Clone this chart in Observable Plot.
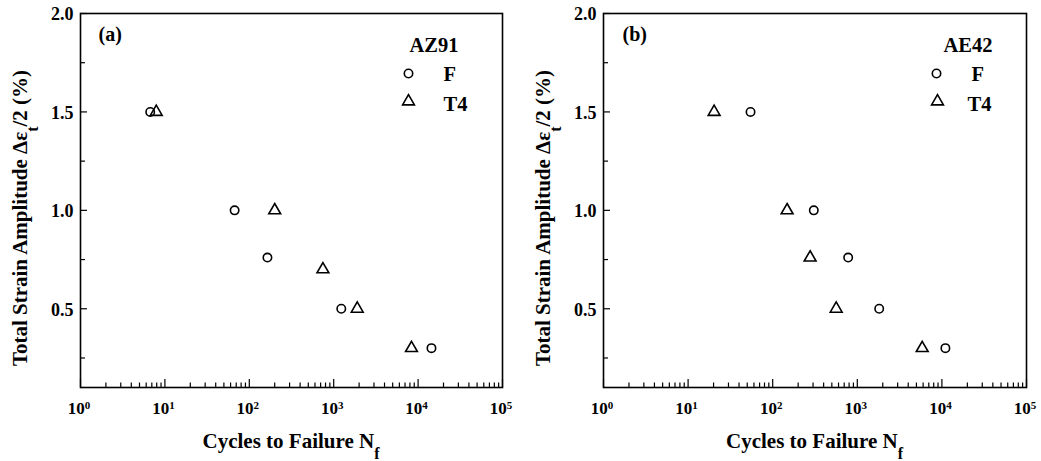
<!DOCTYPE html>
<html><head><meta charset="utf-8">
<script src="https://cdn.jsdelivr.net/npm/d3@7"></script>
<script src="https://cdn.jsdelivr.net/npm/@observablehq/plot@0.6"></script>
<style>
html,body{margin:0;padding:0;background:#fff;}
#wrap{display:flex;width:1041px;height:461px;overflow:hidden;}
svg text{font-family:"Liberation Serif","Times New Roman",serif;font-weight:bold;}
</style></head><body><div id="wrap"></div>
<script>
// ---- data ----
const xTickValues = [1, 10, 100, 1000, 10000, 100000];
const xTickExponents = [0, 1, 2, 3, 4, 5];
const minorMultipliers = [2, 3, 4, 5, 6, 7, 8, 9];
const yTickValues = [0.5, 1.0, 1.5, 2.0];
const yMinorTicks = [0.25, 0.75, 1.25, 1.75];

const az91F_cycles = [6.7, 67, 164, 1230, 14400];
const az91F_strain = [1.5, 1.0, 0.76, 0.5, 0.3];
const az91T4_cycles = [7.9, 200, 745, 1900, 8350];
const az91T4_strain = [1.5, 1.0, 0.7, 0.5, 0.3];

const ae42F_cycles = [54.7, 306, 780, 1815, 11000];
const ae42F_strain = [1.5, 1.0, 0.76, 0.5, 0.3];
const ae42T4_cycles = [20.3, 148, 277, 563, 5850];
const ae42T4_strain = [1.5, 1.0, 0.76, 0.5, 0.3];

const legendItems = ["F", "T4"];
// ---------------

const xMinorTicks = xTickValues.slice(0, -1).flatMap(d => minorMultipliers.map(m => m * d));
const toPoints = (xs, ys) => xs.map((x, i) => ({x, y: ys[i]}));
const FONT = '"Liberation Serif","Times New Roman",serif';

function panel(cfg) {
  const W = cfg.width, H = 461, mT = 13, mB = 74, mL = cfg.mL, mR = cfg.mR;
  const fw = W - mL - mR, fh = H - mT - mB;
  const cx = mL + fw / 2;

  const xLabels = (index, scales) => {
    const g = d3.create("svg:g");
    const y = H - mB + 27;
    xTickValues.forEach((v, i) => {
      const t = g.append("text").attr("x", scales.x(v) - 1).attr("y", y)
        .attr("text-anchor", "middle").attr("font-size", 17).attr("fill", "black")
        .attr("font-family", FONT).attr("font-weight", "bold");
      t.append("tspan").text("10");
      t.append("tspan").attr("dy", "-0.42em").attr("font-size", 11).text(String(xTickExponents[i]));
    });
    return g.node();
  };

  const axisTitles = () => {
    const g = d3.create("svg:g").attr("font-family", FONT).attr("font-weight", "bold").attr("fill", "black");
    const xt = g.append("text").attr("x", cx).attr("y", H - mB + 61)
      .attr("text-anchor", "middle").attr("font-size", 21);
    xt.append("tspan").text("Cycles to Failure N");
    xt.append("tspan").attr("dy", 11).attr("font-size", 16).text("f");
    const yt = g.append("text").attr("transform", `translate(${mL - 53},${mT + fh / 2 + 18}) rotate(-90)`)
      .attr("text-anchor", "middle").attr("font-size", 21);
    yt.append("tspan").text("Total Strain Amplitude \u0394\u03b5");
    yt.append("tspan").attr("dy", 11).attr("font-size", 16).text("t");
    yt.append("tspan").attr("dy", -11).text("/2 (%)");
    return g.node();
  };

  const L = cfg.legend;
  return Plot.plot({
    width: W, height: H, marginLeft: mL, marginRight: mR, marginTop: mT, marginBottom: mB,
    style: {fontFamily: FONT, fontWeight: "bold", background: "white", color: "black", overflow: "visible"},
    x: {type: "log", domain: [1, 1e5], axis: null},
    y: {domain: [0.1, 2.0], axis: null},
    marks: [
      Plot.tickX(xTickValues, {x: d => d, insetTop: fh - 8, stroke: "black", strokeWidth: 1.2}),
      Plot.tickX(xMinorTicks, {x: d => d, insetTop: fh - 4.5, stroke: "black", strokeWidth: 1.2}),
      Plot.tickY(yTickValues, {y: d => d, insetRight: fw - 7, stroke: "black", strokeWidth: 1.2}),
      Plot.tickY(yMinorTicks, {y: d => d, insetRight: fw - 5, stroke: "black", strokeWidth: 1.2}),
      Plot.text(yTickValues, {y: d => d, frameAnchor: "left", textAnchor: "end", dx: -7, dy: 1,
        text: d => d.toFixed(1), fontSize: 18, fill: "black"}),
      Plot.frame({stroke: "black", strokeWidth: 1.6}),
      Plot.dot(toPoints(cfg.fx, cfg.fy), {x: "x", y: "y", symbol: "circle", r: 4.2, stroke: "black", strokeWidth: 1.6, fill: "white"}),
      Plot.dot(toPoints(cfg.tx, cfg.ty), {x: "x", y: "y", symbol: "triangle", r: 4.4, stroke: "black", strokeWidth: 1.6, fill: "none"}),
      // panel tag
      Plot.text([cfg.tag], {frameAnchor: "top-left", dx: cfg.tagDx, dy: 27, lineAnchor: "bottom", textAnchor: "start", fontSize: 20, fill: "black"}),
      // legend
      Plot.text([cfg.alloy], {frameAnchor: "top-right", dx: L.titleDx, dy: 38, lineAnchor: "bottom", textAnchor: "start", fontSize: 20.5, fill: "black"}),
      Plot.dot([legendItems[0]], {frameAnchor: "top-right", dx: L.circDx, dy: 60, symbol: "circle", r: 4.2, stroke: "black", strokeWidth: 1.6, fill: "white"}),
      Plot.text([legendItems[0]], {frameAnchor: "top-right", dx: L.fDx, dy: 67, lineAnchor: "bottom", textAnchor: "start", fontSize: 20.5, fill: "black"}),
      Plot.dot([legendItems[1]], {frameAnchor: "top-right", dx: L.triDx, dy: 88, symbol: "triangle", r: 4.4, stroke: "black", strokeWidth: 1.6, fill: "none"}),
      Plot.text([legendItems[1]], {frameAnchor: "top-right", dx: L.tDx, dy: 97, lineAnchor: "bottom", textAnchor: "start", fontSize: 20.5, fill: "black"}),
      xLabels,
      axisTitles
    ]
  });
}

const wrap = document.getElementById("wrap");
wrap.appendChild(panel({
  width: 520, mL: 80, mR: 18, tag: "(a)", tagDx: 18, alloy: "AZ91",
  fx: az91F_cycles, fy: az91F_strain, tx: az91T4_cycles, ty: az91T4_strain,
  legend: {titleDx: -93, circDx: -94, fDx: -59, triDx: -94, tDx: -59}
}));
wrap.appendChild(panel({
  width: 521, mL: 83, mR: 15, tag: "(b)", tagDx: 19, alloy: "AE42",
  fx: ae42F_cycles, fy: ae42F_strain, tx: ae42T4_cycles, ty: ae42T4_strain,
  legend: {titleDx: -83, circDx: -90, fDx: -55, triDx: -89, tDx: -59}
}));
</script></body></html>
